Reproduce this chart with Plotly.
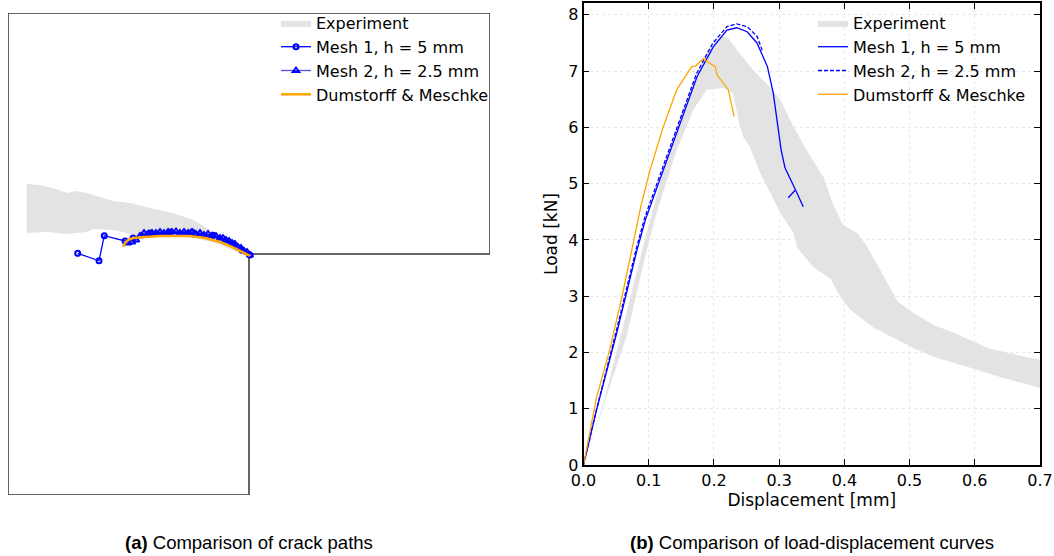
import plotly.graph_objects as go

W, H = 1054, 556

# ---------------- Left panel: crack paths (mm) ----------------
specimen_x = [0, 500, 500, 250, 250, 0, 0]
specimen_y = [500, 500, 250, 250, 0, 0, 500]

crack_exp_upper_x = [19.4, 33.2, 46.7, 61.2, 69.5, 82.0, 95.4, 108.9, 126.6, 147.3, 171.2, 191.9, 206.4, 219.9, 233.4, 251.0]
crack_exp_upper_y = [322.6, 321.6, 318.5, 313.3, 315.4, 313.3, 309.1, 305.0, 302.9, 297.7, 292.5, 285.3, 277.0, 267.6, 259.3, 249.0]
crack_exp_lower_x = [247.9, 233.4, 214.7, 194.0, 168.0, 136.9, 108.9, 88.2, 82.0, 61.2, 40.5, 19.4]
crack_exp_lower_y = [247.9, 254.1, 261.4, 266.6, 268.7, 268.7, 274.9, 275.9, 272.8, 270.7, 272.8, 271.8]

mesh1_crack_x = [251.0, 242.7, 233.4, 212.7, 190.9, 168.0, 147.3, 129.7, 121.4, 99.9, 94.4, 72.3]
mesh1_crack_y = [249.0, 254.1, 260.4, 269.4, 272.8, 272.8, 271.8, 266.6, 263.5, 269.0, 243.0, 250.7]

mesh2_crack_x = [251.0, 247.9, 244.8, 241.7, 238.6, 235.5, 232.4, 229.3, 226.1, 223.0, 219.9, 215.8,
                 211.6, 207.5, 203.3, 199.2, 195.0, 190.9, 186.7, 182.6, 178.4, 174.3, 170.1, 166.0,
                 161.8, 157.7, 153.5, 149.4, 145.2, 141.1, 136.9, 132.8, 128.6, 124.5]
mesh2_crack_y = [249.0, 252.0, 253.1, 256.2, 257.3, 260.3, 261.4, 263.4, 264.5, 266.6, 266.6, 268.7,
                 268.7, 270.7, 269.7, 271.8, 270.7, 272.8, 271.8, 272.8, 271.8, 273.3, 272.8, 272.8,
                 271.8, 272.8, 271.8, 271.8, 270.7, 271.8, 268.7, 264.5, 262.4, 261.4]

dm_crack_x = [119.3, 121.4, 124.5, 129.7, 142.1, 157.7, 173.2, 188.8, 204.4, 219.9, 232.4, 242.7, 251.0]
dm_crack_y = [257.3, 261.4, 264.5, 266.6, 267.6, 268.7, 268.7, 268.7, 266.6, 262.4, 257.3, 252.1, 248.0]

# ---------------- Right panel: load-displacement ----------------
exp_upper_x = [0.0, 0.032, 0.063, 0.094, 0.125, 0.152, 0.171, 0.189, 0.209, 0.220, 0.235, 0.260, 0.282,
               0.302, 0.322, 0.348, 0.368, 0.383, 0.398, 0.420, 0.435, 0.455, 0.482, 0.506, 0.537,
               0.568, 0.598, 0.620, 0.651, 0.700]
exp_upper_y = [0.0, 1.16, 2.58, 4.00, 5.33, 6.31, 6.84, 7.34, 7.61, 7.61, 7.38, 7.02, 6.76,
               6.49, 6.01, 5.48, 5.12, 4.62, 4.27, 4.12, 3.88, 3.47, 2.90, 2.70, 2.49,
               2.35, 2.19, 2.08, 1.99, 1.87]
exp_lower_x = [0.0, 0.009, 0.025, 0.045, 0.066, 0.082, 0.097, 0.112, 0.128, 0.143, 0.158, 0.168,
               0.189, 0.214, 0.229, 0.240, 0.245, 0.255, 0.271, 0.282, 0.302, 0.322, 0.328, 0.352,
               0.378, 0.394, 0.409, 0.445, 0.475, 0.506, 0.537, 0.568, 0.605, 0.640, 0.671, 0.700]
exp_lower_y = [0.0, 0.39, 0.85, 1.56, 2.28, 3.06, 3.82, 4.48, 5.07, 5.60, 6.01, 6.31,
               6.67, 6.70, 6.61, 6.01, 5.83, 5.65, 5.19, 4.94, 4.48, 4.12, 3.86, 3.52,
               3.32, 2.99, 2.76, 2.44, 2.26, 2.08, 1.92, 1.81, 1.69, 1.56, 1.46, 1.37]

mesh1_x = [0.0, 0.020, 0.051, 0.082, 0.095, 0.122, 0.148, 0.174, 0.199, 0.220, 0.235, 0.251, 0.266,
           0.282, 0.291, 0.298, 0.303, 0.309, 0.317, 0.325, 0.314, 0.325, 0.337]
mesh1_y = [0.0, 0.98, 2.35, 3.82, 4.36, 5.24, 6.08, 6.90, 7.43, 7.73, 7.77, 7.70, 7.50,
           7.08, 6.61, 6.01, 5.60, 5.28, 5.07, 4.89, 4.75, 4.89, 4.59]

mesh2_x = [0.0, 0.020, 0.050, 0.081, 0.094, 0.121, 0.147, 0.173, 0.198, 0.220, 0.235, 0.251, 0.266, 0.275]
mesh2_y = [0.0, 0.99, 2.37, 3.85, 4.40, 5.28, 6.12, 6.95, 7.49, 7.79, 7.84, 7.79, 7.62, 7.34]

dm_x = [0.0, 0.020, 0.040, 0.059, 0.074, 0.088, 0.102, 0.122, 0.143, 0.166, 0.172, 0.184, 0.196,
        0.202, 0.205, 0.222, 0.231]
dm_y = [0.0, 1.20, 2.04, 2.99, 3.82, 4.60, 5.24, 6.00, 6.67, 7.08, 7.09, 7.22, 7.12,
        7.08, 6.93, 6.67, 6.19]

x_ticks = [0.0, 0.1, 0.2, 0.3, 0.4, 0.5, 0.6, 0.7]
y_ticks = [0, 1, 2, 3, 4, 5, 6, 7, 8]

GRAY = "#e3e3e3"
BLUE = "#0000ff"
ORANGE = "#ffa500"
FONT = "DejaVu Sans"

fig = go.Figure()

# Left panel traces
fig.add_trace(go.Scatter(x=specimen_x, y=specimen_y, mode="lines", line=dict(color="#333333", width=1.5),
                         showlegend=False, hoverinfo="skip", xaxis="x", yaxis="y"))
fig.add_trace(go.Scatter(x=crack_exp_upper_x + crack_exp_lower_x, y=crack_exp_upper_y + crack_exp_lower_y,
                         fill="toself", fillcolor=GRAY, mode="lines", line=dict(width=0, color=GRAY),
                         name="Experiment", legend="legend", xaxis="x", yaxis="y"))
fig.add_trace(go.Scatter(x=mesh1_crack_x, y=mesh1_crack_y, mode="lines+markers",
                         line=dict(color=BLUE, width=1.3),
                         marker=dict(symbol="circle-open", size=5, color=BLUE, line=dict(width=2)),
                         name="Mesh 1, h = 5 mm", legend="legend", xaxis="x", yaxis="y"))
fig.add_trace(go.Scatter(x=mesh2_crack_x, y=mesh2_crack_y, mode="lines+markers",
                         line=dict(color="rgba(40,40,255,0.8)", width=1.3),
                         marker=dict(symbol="triangle-up-open", size=6, color=BLUE, line=dict(width=1.8)),
                         name="Mesh 2, h = 2.5 mm", legend="legend", xaxis="x", yaxis="y"))
fig.add_trace(go.Scatter(x=dm_crack_x, y=dm_crack_y, mode="lines", line=dict(color=ORANGE, width=2.5),
                         name="Dumstorff & Meschke", legend="legend", xaxis="x", yaxis="y"))

# Right panel traces
fig.add_trace(go.Scatter(x=exp_upper_x + exp_lower_x[::-1], y=exp_upper_y + exp_lower_y[::-1],
                         fill="toself", fillcolor=GRAY, mode="lines", line=dict(width=0, color=GRAY),
                         name="Experiment", legend="legend2", xaxis="x2", yaxis="y2"))
fig.add_trace(go.Scatter(x=mesh1_x, y=mesh1_y, mode="lines", line=dict(color=BLUE, width=1.3),
                         name="Mesh 1, h = 5 mm", legend="legend2", xaxis="x2", yaxis="y2"))
fig.add_trace(go.Scatter(x=mesh2_x, y=mesh2_y, mode="lines", line=dict(color=BLUE, width=1.3, dash="4px,2px"),
                         name="Mesh 2, h = 2.5 mm", legend="legend2", xaxis="x2", yaxis="y2"))
fig.add_trace(go.Scatter(x=dm_x, y=dm_y, mode="lines", line=dict(color=ORANGE, width=1.3),
                         name="Dumstorff & Meschke", legend="legend2", xaxis="x2", yaxis="y2"))

def px_x(p):
    return p / W

def px_y(p):
    return 1 - p / H

axis_common = dict(showline=True, linecolor="black", linewidth=1.5, mirror="ticks", ticks="inside",
                   ticklen=6, tickwidth=1.2, tickcolor="black", showgrid=True, gridcolor="#e8e8e8",
                   griddash="dot", gridwidth=1, zeroline=False, automargin=False,
                   tickfont=dict(family=FONT, size=16, color="black"))

fig.update_layout(
    width=W, height=H, margin=dict(l=0, r=0, t=0, b=0, autoexpand=False),
    paper_bgcolor="white", plot_bgcolor="white",
    font=dict(family=FONT, size=16, color="black"),
    xaxis=dict(domain=[px_x(8), px_x(490)], range=[0, 500], visible=False, fixedrange=True, automargin=False),
    yaxis=dict(domain=[px_y(495), px_y(13)], range=[0, 500], visible=False, fixedrange=True, automargin=False),
    xaxis2=dict(domain=[px_x(583.5), px_x(1040)], range=[0, 0.7], tickvals=x_ticks,
                ticktext=[f"{v:.1f}" for v in x_ticks], anchor="y2",
                title=dict(text="Displacement [mm]", font=dict(family=FONT, size=17), standoff=2),
                **axis_common),
    yaxis2=dict(domain=[px_y(465), px_y(3)], range=[0, 8.21], tickvals=y_ticks, anchor="x2",
                title=dict(text="Load [kN]", font=dict(family=FONT, size=17), standoff=6),
                **axis_common),
    legend=dict(x=px_x(276), y=px_y(6), xanchor="left", yanchor="top", bgcolor="rgba(0,0,0,0)",
                font=dict(family=FONT, size=16), tracegroupgap=0, itemwidth=30),
    legend2=dict(x=px_x(813), y=px_y(6), xanchor="left", yanchor="top", bgcolor="rgba(0,0,0,0)",
                 font=dict(family=FONT, size=16), tracegroupgap=0, itemwidth=30),
    annotations=[
        dict(text="<b>(a)</b> Comparison of crack paths", x=px_x(249), y=px_y(542), xref="paper",
             yref="paper", showarrow=False, xanchor="center", yanchor="middle",
             font=dict(family="Liberation Sans", size=18.5, color="black")),
        dict(text="<b>(b)</b> Comparison of load-displacement curves", x=px_x(812), y=px_y(542),
             xref="paper", yref="paper", showarrow=False, xanchor="center", yanchor="middle",
             font=dict(family="Liberation Sans", size=18.5, color="black")),
    ],
)

fig.write_html("out.html")
